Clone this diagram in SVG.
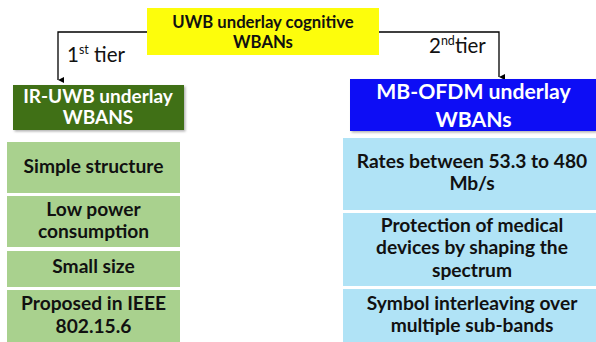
<svg xmlns="http://www.w3.org/2000/svg" width="596" height="342" viewBox="0 0 596 342">
  <defs>
    <marker id="arrow" viewBox="0 0 8 8" refX="4" refY="8" markerWidth="6" markerHeight="6" orient="auto-start-reverse" markerUnits="userSpaceOnUse">
      <path d="M0,0 L4,8 L8,0 Z" fill="#000"/>
    </marker>
    <filter id="shadow" x="-5%" y="-10%" width="115%" height="130%">
      <feDropShadow dx="1.5" dy="1.5" stdDeviation="1" flood-color="#000" flood-opacity="0.3"/>
    </filter>
  </defs>
  <style>
    text { font-family: Lato, "Liberation Sans", sans-serif; font-weight: bold; text-anchor: middle; fill: #111; }
    .body { font-size: 19.2px; }
    .tier { font-weight: normal; text-anchor: start; font-size: 20.5px; }
    .sup { font-size: 12.5px; }
    .white { fill: #fff; }
    .line { fill: none; stroke: #000; stroke-width: 1.3; }
  </style>
  <rect width="596" height="342" fill="#fff"/>

  <!-- connectors -->
  <g id="connectors">
    <path class="line" d="M147,32 H58 V80" marker-end="url(#arrow)"/>
    <path class="line" d="M379,32 H499 V77" marker-end="url(#arrow)"/>
    <text class="tier" x="67" y="62">1<tspan class="sup" dy="-8">st</tspan><tspan dy="8"> tier</tspan></text>
    <text class="tier" x="429" y="53">2<tspan class="sup" dy="-8">nd</tspan><tspan dy="8">tier</tspan></text>
  </g>

  <!-- root -->
  <g id="root">
    <rect x="147" y="8" width="232" height="47" fill="#fdfd0c"/>
    <text x="263" y="28" font-size="16.7">UWB underlay cognitive</text>
    <text x="263" y="48" font-size="16.7">WBANs</text>
  </g>

  <!-- first tier -->
  <g id="ir-uwb">
    <rect x="13" y="85" width="171" height="45" fill="#3f6f19" filter="url(#shadow)"/>
    <text class="white" x="98" y="103" font-size="19">IR-UWB underlay</text>
    <text class="white" x="98" y="124" font-size="19">WBANS</text>
  </g>
  <g id="simple-structure">
    <rect x="7" y="142" width="173" height="51" fill="#a9d18e"/>
    <text class="body" x="93.5" y="173">Simple structure</text>
  </g>
  <g id="low-power">
    <rect x="7" y="196" width="173" height="51" fill="#a9d18e"/>
    <text class="body" x="93.5" y="216">Low power</text>
    <text class="body" x="93.5" y="238">consumption</text>
  </g>
  <g id="small-size">
    <rect x="7" y="251" width="173" height="36" fill="#a9d18e"/>
    <text class="body" x="93.5" y="273">Small size</text>
  </g>
  <g id="ieee">
    <rect x="7" y="290" width="173" height="52" fill="#a9d18e"/>
    <text class="body" x="93.5" y="310">Proposed in IEEE</text>
    <text class="body" x="93.5" y="333">802.15.6</text>
  </g>

  <!-- second tier -->
  <g id="mb-ofdm">
    <rect x="350" y="79" width="246" height="52" fill="#0a0af5" filter="url(#shadow)"/>
    <text class="white" x="473.5" y="99" font-size="21.2">MB-OFDM underlay</text>
    <text class="white" x="473.5" y="127" font-size="21.2">WBANs</text>
  </g>
  <g id="rates">
    <rect x="343" y="138" width="253" height="72" fill="#b0e3f6"/>
    <text class="body" x="472" y="168">Rates between 53.3 to 480</text>
    <text class="body" x="472" y="190">Mb/s</text>
  </g>
  <g id="protection">
    <rect x="343" y="213" width="253" height="73" fill="#b0e3f6"/>
    <text class="body" x="472" y="232">Protection of medical</text>
    <text class="body" x="472" y="254">devices by shaping the</text>
    <text class="body" x="472" y="277">spectrum</text>
  </g>
  <g id="interleaving">
    <rect x="343" y="289" width="253" height="53" fill="#b0e3f6"/>
    <text class="body" x="472" y="310">Symbol interleaving over</text>
    <text class="body" x="472" y="332">multiple sub-bands</text>
  </g>
</svg>
